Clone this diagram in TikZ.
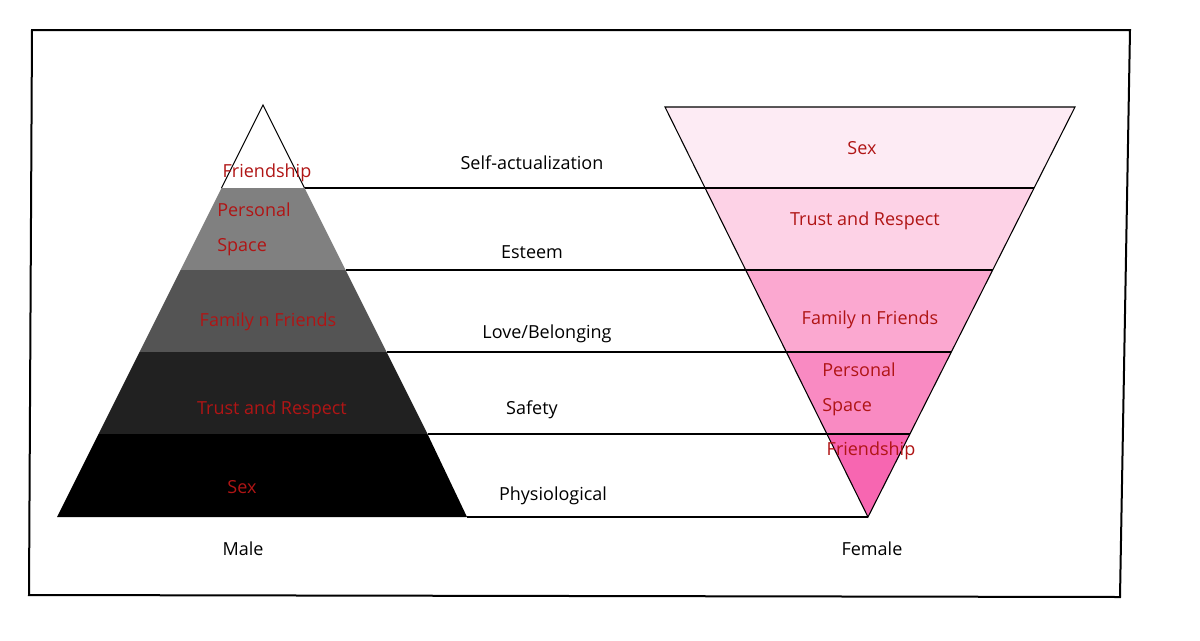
\documentclass[tikz,border=0pt]{standalone}
\usepackage{fontspec}
\setmainfont{Open Sans}
\begin{document}
\begin{tikzpicture}[x=0.75pt,y=-0.75pt,
  lbl/.style={font=\fontsize{13.5}{16}\selectfont,text=black,inner sep=0},
  red/.style={font=\fontsize{13.5}{16}\selectfont,text=txtred,inner sep=0},
  ln/.style={draw=black,line width=0.8pt}]
\definecolor{txtred}{HTML}{B01515}
\definecolor{f1}{HTML}{FDEBF4}\definecolor{f2}{HTML}{FDD2E6}\definecolor{f3}{HTML}{FBA8D0}
\definecolor{f4}{HTML}{F98AC2}\definecolor{f5}{HTML}{F766B1}
\useasboundingbox (0,0) rectangle (1200,640);
\fill[white] (0,0) rectangle (1200,640);
\draw[line width=1.5pt] (32,30) -- (1130,30) -- (1120,597) -- (29,595) -- cycle;
% male
\fill[white] (263,105) -- (304.5,188) -- (221.5,188) -- cycle;
\fill[black!50] (221.5,188) -- (304.5,188) -- (345.5,270) -- (180.5,270) -- cycle;
\fill[black!67] (180.5,270) -- (345.5,270) -- (386.5,352) -- (139.5,352) -- cycle;
\fill[black!87] (139.5,352) -- (386.5,352) -- (427.5,434) -- (98.5,434) -- cycle;
\fill[black] (98.5,434) -- (427.5,434) -- (467,517) -- (57,517) -- cycle;
\draw[ln] (221.5,188) -- (263,105) -- (304.5,188);
% female
\fill[f1] (665,107) -- (1075,107) -- (1034,188) -- (705,188) -- cycle;
\fill[f2] (705,188) -- (1034,188) -- (992.7,270) -- (745.7,270) -- cycle;
\fill[f3] (745.7,270) -- (992.7,270) -- (951.3,352) -- (786.3,352) -- cycle;
\fill[f4] (786.3,352) -- (951.3,352) -- (910,434) -- (826.9,434) -- cycle;
\fill[f5] (826.9,434) -- (910,434) -- (868,517) -- cycle;
\draw[ln] (665,107) -- (1075,107) -- (868,517) -- cycle;
\draw[ln] (705,188) -- (1034,188) (745.7,270) -- (992.7,270) (786.3,352) -- (951.3,352) (826.9,434) -- (910,434);
% connectors
\coordinate (m1) at (304.5,188); \coordinate (w1) at (705,188);
\coordinate (m2) at (345.5,270); \coordinate (w2) at (745.7,270);
\coordinate (m3) at (386.5,352); \coordinate (w3) at (786.3,352);
\coordinate (m4) at (427.5,434); \coordinate (w4) at (826.9,434);
\coordinate (m5) at (467,517); \coordinate (w5) at (868,517);
\draw[ln] (m1) -- (w1) (m2) -- (w2) (m3) -- (w3) (m4) -- (w4) (m5) -- (w5);
% labels
\node[lbl] (l1) at (532,163) {Self-actualization};
\node[lbl] (l2) at (532,252) {Esteem};
\node[lbl] (l3) at (547,334) {Love/Belonging};
\node[lbl] (l4) at (532,410) {Safety};
\node[lbl] (l5) at (553,496) {Physiological};
\node[lbl] (male) at (243,549) {Male};
\node[lbl] (female) at (872,549) {Female};
\node[red] (mf) at (267,173) {Friendship};
\node[red,anchor=west,align=left,font=\fontsize{13.5}{26}\selectfont] (mp) at (217,229) {Personal\\Space};
\node[red] (mff) at (268,322) {Family n Friends};
\node[red] (mt) at (272,410) {Trust and Respect};
\node[red] (ms) at (242,487) {Sex};
\node[red] (fs) at (862,148) {Sex};
\node[red] (ft) at (865,221) {Trust and Respect};
\node[red] (fff) at (870,320) {Family n Friends};
\node[red,anchor=west,align=left,font=\fontsize{13.5}{26}\selectfont] (fp) at (822,389) {Personal\\Space};
\node[red] (ffr) at (871,451) {Friendship};
\end{tikzpicture}
\end{document}
